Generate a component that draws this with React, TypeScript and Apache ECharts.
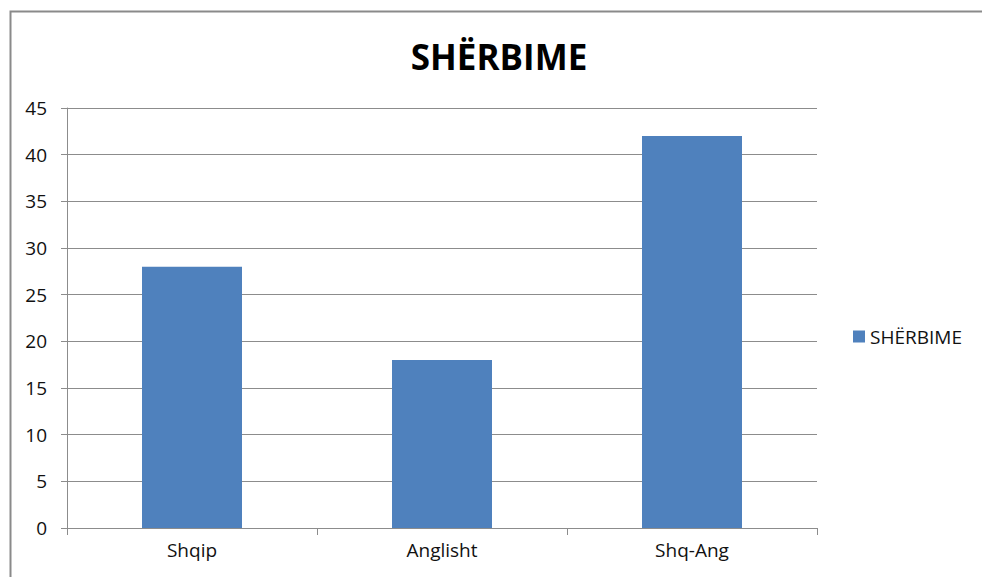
import React, { useEffect, useRef } from "react";
import * as echarts from "echarts";

const categories = ["Shqip", "Anglisht", "Shq-Ang"];
const values = [28, 18, 42];
const seriesName = "SHËRBIME";
const titleText = "SHËRBIME";

export default function App() {
  const ref = useRef<HTMLDivElement>(null);
  useEffect(() => {
    document.body.style.margin = "0";
    const chart = echarts.init(ref.current!, null, { renderer: "svg" });
    const font = "'Open Sans', 'Noto Sans', sans-serif";
    chart.setOption({
      animation: false,
      backgroundColor: "#ffffff",
      title: {
        text: titleText,
        left: 494,
        textAlign: "center",
        top: 34,
        textStyle: { fontFamily: font, fontWeight: "bold", fontSize: 35, color: "#000" },
      },
      legend: {
        orient: "vertical",
        left: 848,
        top: 322,
        itemWidth: 12,
        itemHeight: 12,
        itemGap: 6,
        icon: "rect",
        textStyle: { fontFamily: font, fontSize: 19, color: "#111" },
        data: [seriesName],
      },
      grid: { left: 67, right: 165, top: 108, bottom: 49, containLabel: false },
      xAxis: {
        type: "category",
        data: categories,
        axisLine: { lineStyle: { color: "#8c8c8c", width: 1 } },
        axisTick: { show: true, alignWithLabel: false, length: 7, lineStyle: { color: "#8c8c8c" } },
        axisLabel: { fontFamily: font, fontSize: 19, color: "#111", margin: 12 },
      },
      yAxis: {
        type: "value",
        min: 0,
        max: 45,
        interval: 5,
        axisLine: { show: true, lineStyle: { color: "#8c8c8c", width: 1 } },
        axisTick: { show: true, length: 6, lineStyle: { color: "#8c8c8c" } },
        axisLabel: { fontFamily: font, fontSize: 19, color: "#111", margin: 20 },
        splitLine: { show: true, lineStyle: { color: "#8c8c8c", width: 1 } },
      },
      series: [
        {
          name: seriesName,
          type: "bar",
          data: values,
          barWidth: "40%",
          itemStyle: { color: "#4f81bd" },
        },
      ],
      graphic: [
        {
          type: "rect",
          shape: { x: 10.5, y: 11.5, width: 1200, height: 800 },
          style: { fill: "none", stroke: "#8a8a8a", lineWidth: 2 },
          silent: true,
        },
      ],
    });
    return () => chart.dispose();
  }, []);
  return <div ref={ref} style={{ width: 982, height: 577 }} />;
}
